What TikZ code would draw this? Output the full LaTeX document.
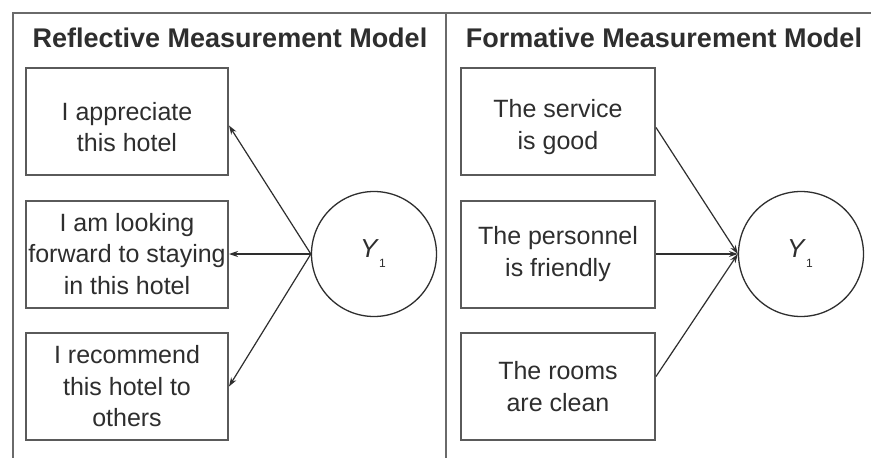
\documentclass[tikz,border=0pt]{standalone}
\usepackage{fontspec}
\setmainfont{Liberation Sans}
\usetikzlibrary{arrows.meta}
\definecolor{ink}{HTML}{2E2E2E}
\definecolor{framec}{HTML}{6A6A6A}
\definecolor{boxc}{HTML}{5A5A5A}
\begin{document}
\begin{tikzpicture}[x=1pt,y=-1pt,
  stmt/.style={draw=boxc, line width=2pt, inner sep=0pt, align=center,
    font=\fontsize{25}{31.5}\selectfont, text=ink, minimum height=107pt},
  lstmt/.style={stmt, minimum width=202pt},
  rstmt/.style={stmt, minimum width=194pt},
  lowtext/.style={text height=61pt},
  latent/.style={draw=ink, line width=1.3pt, circle, minimum size=125pt, inner sep=0pt},
  ttl/.style={font=\fontsize{27}{27}\selectfont\bfseries, text=ink, anchor=base},
  ylab/.style={font=\fontsize{26}{26}\selectfont, text=ink, anchor=base},
  arr/.style={draw=ink, line width=1.2pt, -{Stealth[length=9pt,width=6pt]}},
  framel/.style={draw=framec, line width=2pt}
]
\useasboundingbox (0,0) rectangle (871,458);
\fill[white] (0,0) rectangle (871,458);

% frame
\coordinate (ftr) at (871,13);
\coordinate (ftl) at (13,13);
\coordinate (fbl) at (13,458);
\coordinate (dtop) at (445.5,13);
\coordinate (dbot) at (445.5,458);
\draw[framel] (ftr) -- (ftl) -- (fbl);
\draw[framel] (dtop) -- (dbot);

% titles
\node[ttl] (tl) at (230,47) {Reflective Measurement Model};
\node[ttl] (tr) at (664,47) {Formative Measurement Model};

% reflective side
\node[lstmt, lowtext] (l1) at (127,121.5) {I appreciate\\this hotel};
\node[lstmt] (l2) at (127,254) {I am looking\\forward to staying\\in this hotel};
\node[lstmt] (l3) at (127,386.5) {I recommend\\this hotel to\\others};
\node[latent] (cl) at (374,254) {};
\node[ylab] (yl) at (373,257) {\textit{Y}\raisebox{-10pt}{\fontsize{12}{12}\selectfont 1}};
\draw[arr] (cl.west) -- ([yshift=-4pt]l1.east);
\draw[arr] (cl.west) -- (l2.east);
\draw[arr] (cl.west) -- (l3.east);

% formative side
\node[rstmt, lowtext] (r1) at (558,121.5) {The service\\is good};
\node[rstmt] (r2) at (558,254) {The personnel\\is friendly};
\node[rstmt] (r3) at (558,386.5) {The rooms\\are clean};
\node[latent] (cr) at (801,254) {};
\node[ylab] (yr) at (800,257) {\textit{Y}\raisebox{-10pt}{\fontsize{12}{12}\selectfont 1}};
\draw[arr] ([yshift=-6pt]r1.east) -- (cr.west);
\draw[arr] (r2.east) -- (cr.west);
\draw[arr] ([yshift=10pt]r3.east) -- (cr.west);
\end{tikzpicture}
\end{document}
